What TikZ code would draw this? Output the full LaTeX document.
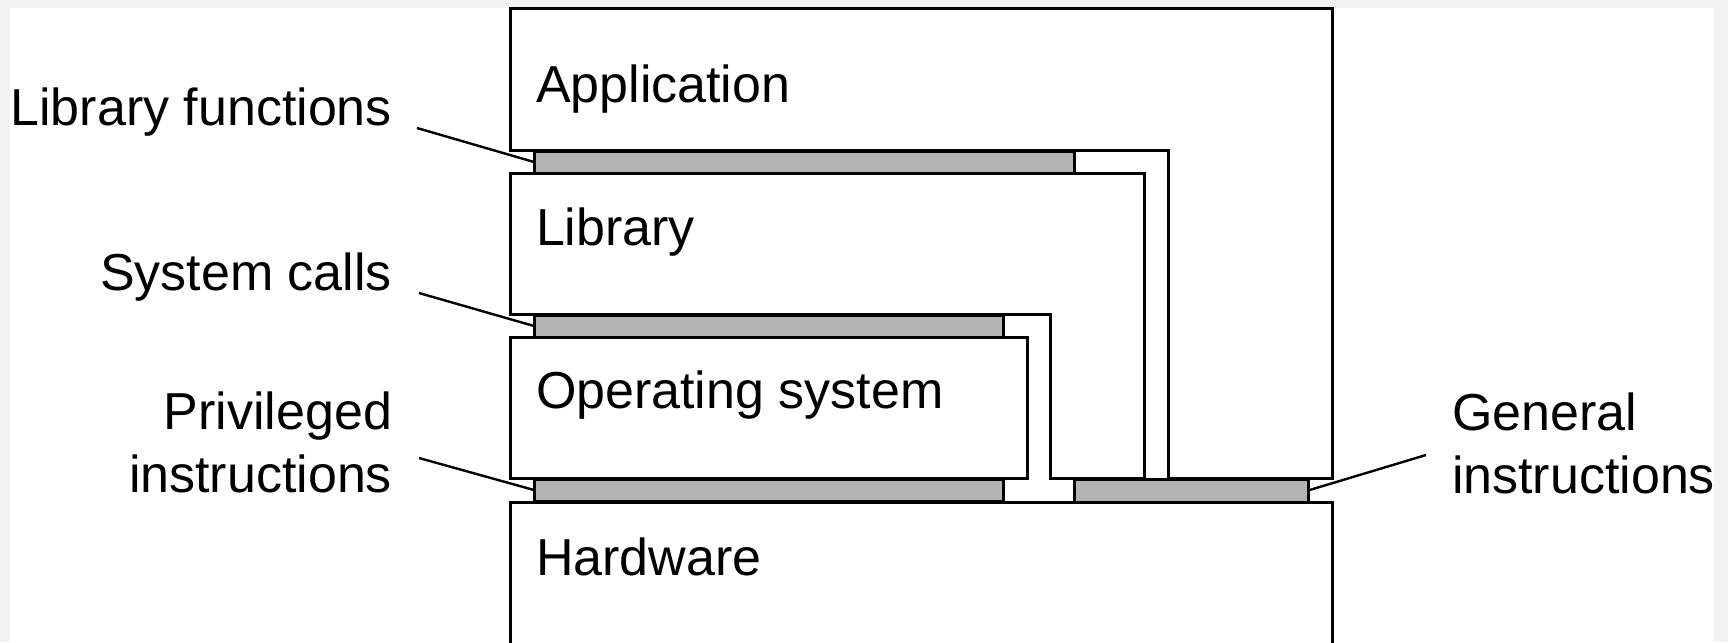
\documentclass[tikz,border=0pt]{standalone}
\usepackage{fontspec}
\setmainfont{Liberation Sans}
\definecolor{barfill}{RGB}{179,179,179}
\definecolor{framebg}{RGB}{242,242,242}
\tikzset{
  layer/.style={draw=black, line width=1.5pt, line join=miter, fill=white},
  bar/.style={draw=black, fill=barfill, line width=1.5pt, rectangle, inner sep=0pt, outer sep=0pt},
  lbl/.style={inner sep=0pt, outer sep=0pt, font=\fontsize{26}{31.5}\selectfont},
  leader/.style={draw=black, line width=1.2pt}
}
\begin{document}
\begin{tikzpicture}[x=0.5pt,y=-0.5pt]
\useasboundingbox (0,0) rectangle (1728,642);
\fill[framebg] (0,0) rectangle (1728,642);
\fill[white] (10,8) rectangle (1714,642);
% layers
\draw[layer] (510,9) -- (1332,9) -- (1332,478) -- (1168,478) -- (1168,150) -- (510,150) -- cycle;
\draw[layer] (510,173) -- (1144,173) -- (1144,478) -- (1050,478) -- (1050,314) -- (510,314) -- cycle;
\draw[layer] (510,337) rectangle (1027,478);
\draw[layer] (510,660) -- (510,502) -- (1332,502) -- (1332,660);
% interface bars
\node[bar, minimum width=270pt, minimum height=11pt] (libfunc) at (804,162) {};
\node[bar, minimum width=234.5pt, minimum height=11pt] (syscall) at (768.5,326) {};
\node[bar, minimum width=234.5pt, minimum height=11pt] (priv) at (768.5,490) {};
\node[bar, minimum width=117pt, minimum height=11.5pt] (general) at (1191,490.5) {};
% layer names
\node[lbl, anchor=base west] (app) at (536,103) {Application};
\node[lbl, anchor=base west] (lib) at (536,245) {Library};
\node[lbl, anchor=base west] (os) at (536,408) {Operating system};
\node[lbl, anchor=base west] (hw) at (536,575) {Hardware};
% interface labels
\node[lbl, anchor=base east] (lflabel) at (392,126) {Library functions};
\node[lbl, anchor=base east] (sclabel) at (392,290) {System calls};
\node[lbl, anchor=base east, align=right] (pilabel) at (392,492) {Privileged\\instructions};
\node[lbl, anchor=base west, align=left] (gilabel) at (1452,493) {General\\instructions};
% leaders
\coordinate (lfend) at (417,128);
\coordinate (scend) at (419,293);
\coordinate (piend) at (419,458);
\coordinate (giend) at (1426,455);
\draw[leader] (lfend) -- (libfunc.west);
\draw[leader] (scend) -- (syscall.west);
\draw[leader] (piend) -- (priv.west);
\draw[leader] (giend) -- (general.east);
\end{tikzpicture}
\end{document}
